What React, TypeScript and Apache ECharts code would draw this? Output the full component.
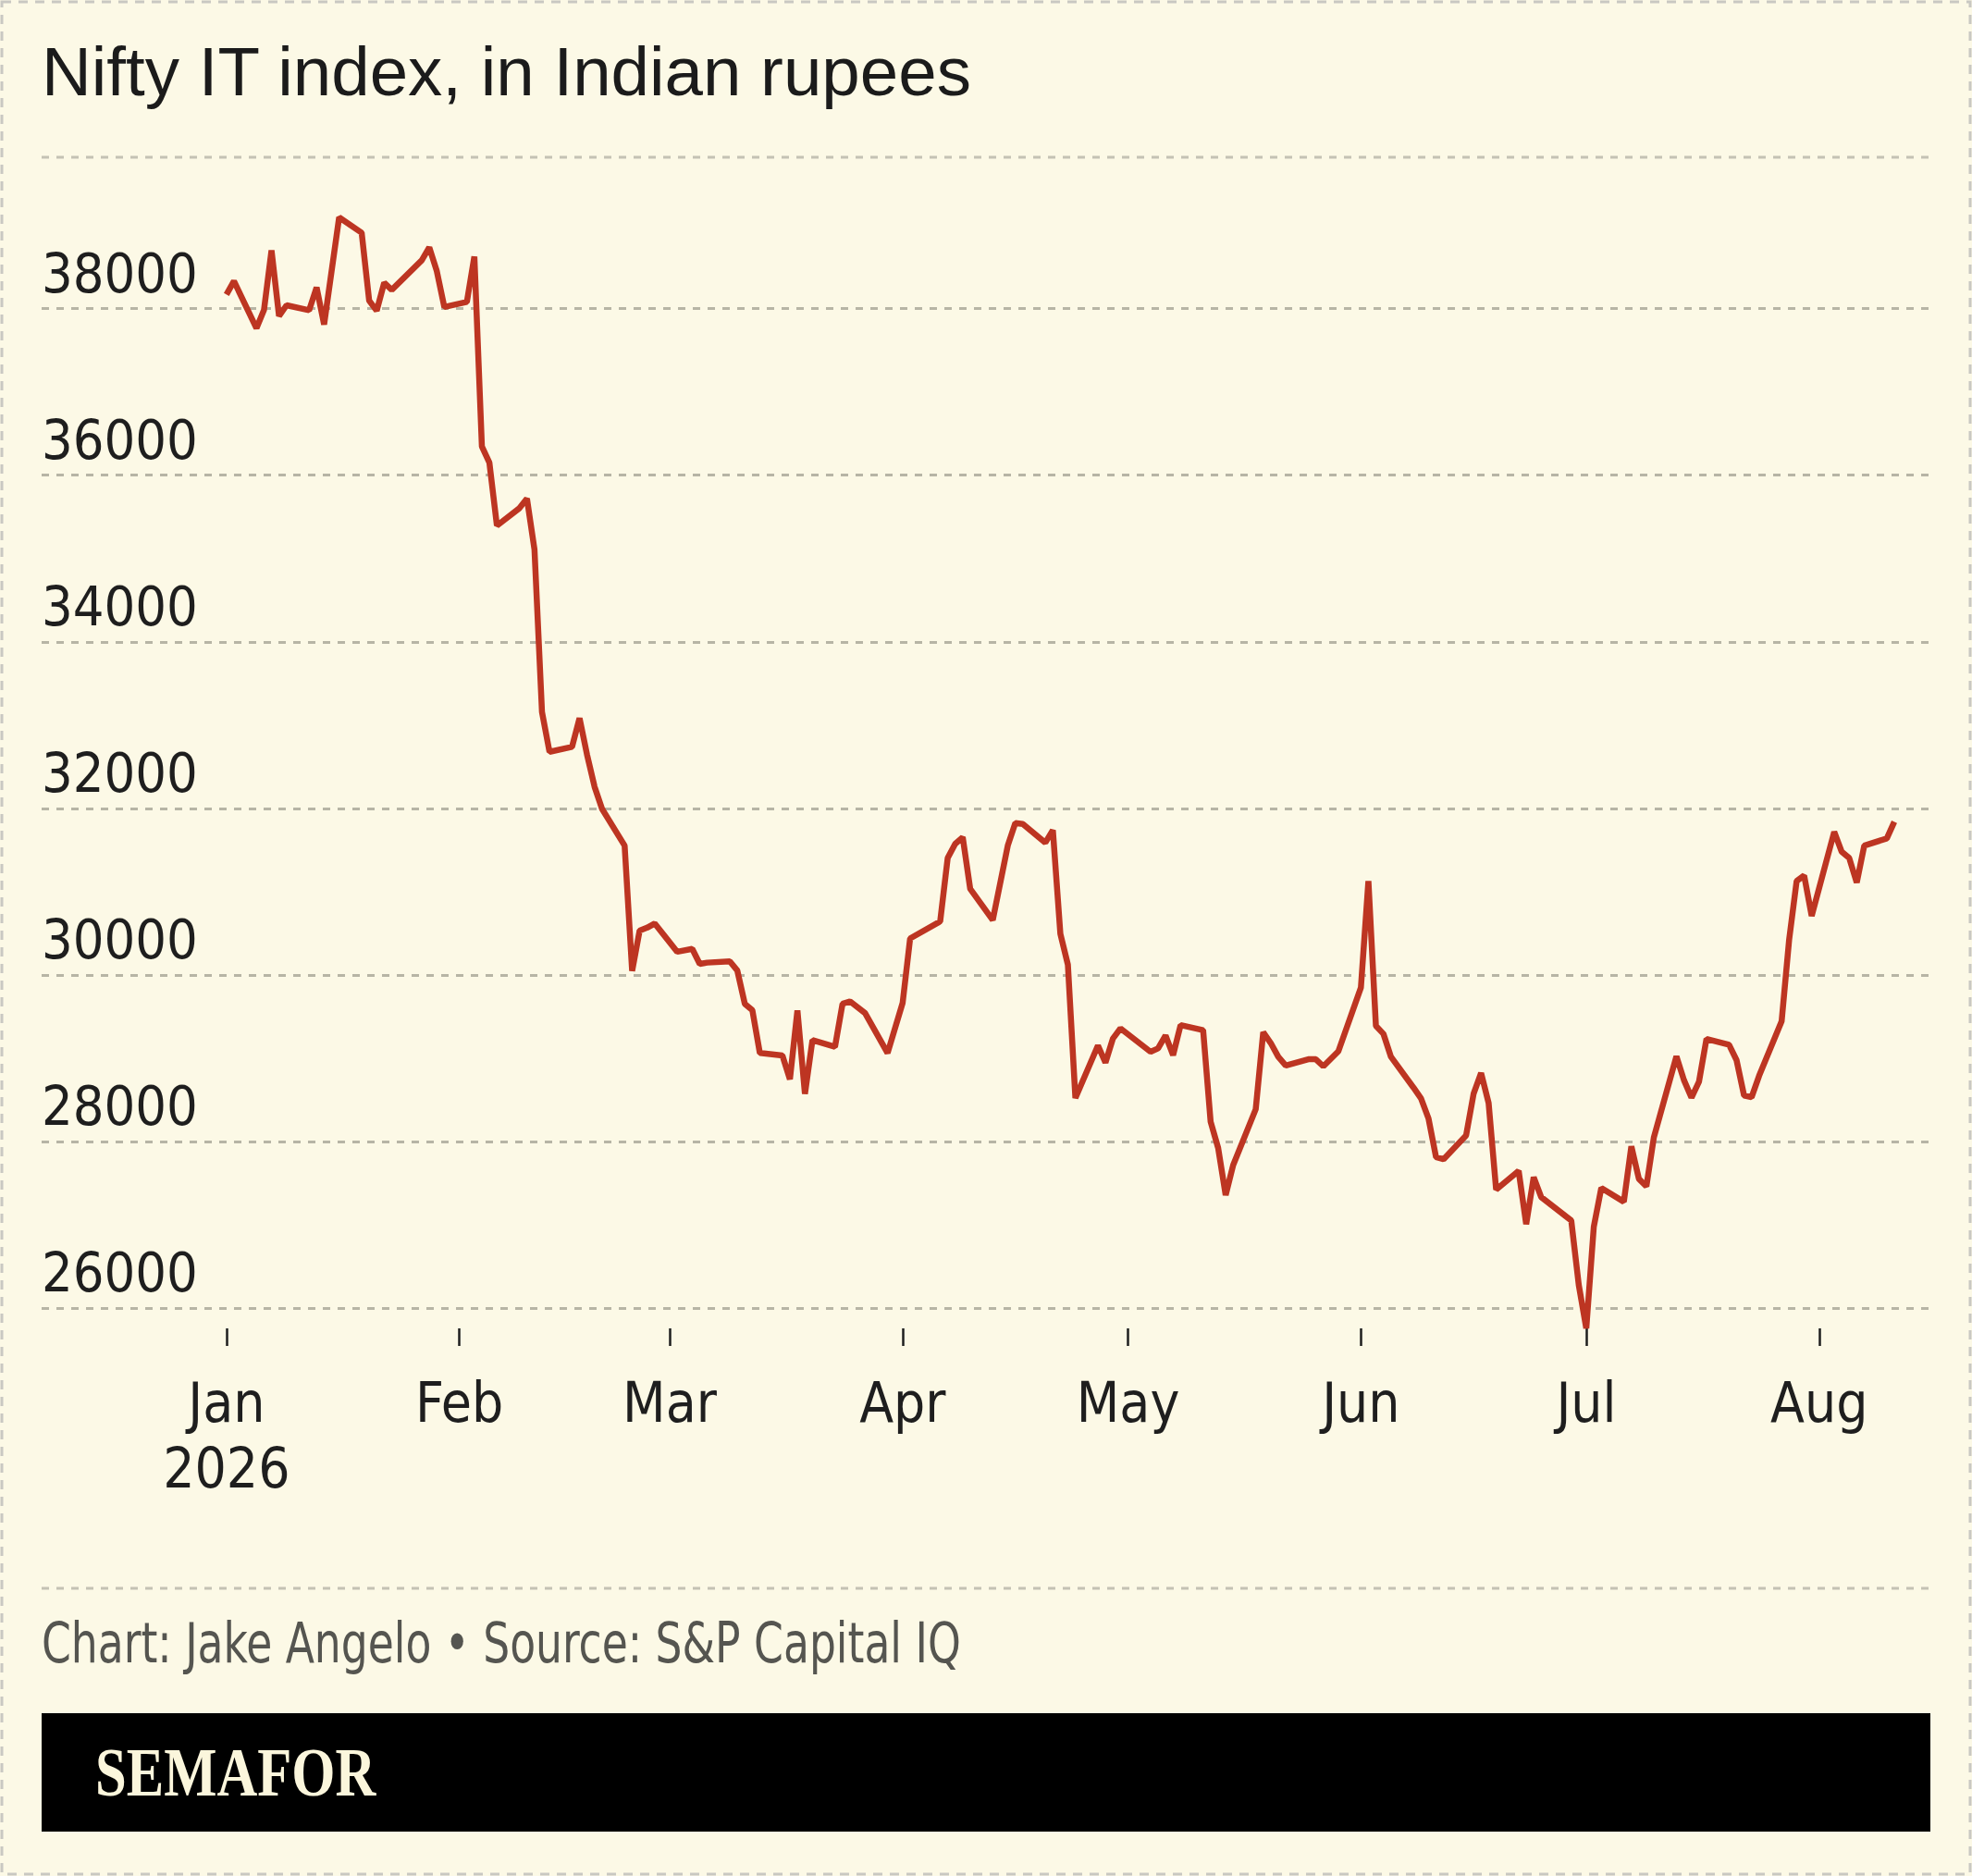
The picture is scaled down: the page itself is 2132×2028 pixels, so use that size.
import React, { useEffect, useRef } from 'react';
import * as echarts from 'echarts';

const titleText = 'Nifty IT index, in Indian rupees';
const sourceText = 'Chart: Jake Angelo • Source: S&P Capital IQ';
const brandText = 'SEMAFOR';

const monthTicks = ['2026-01-01', '2026-02-01', '2026-03-01', '2026-04-01', '2026-05-01', '2026-06-01', '2026-07-01', '2026-08-01'];
const monthLabels = ['Jan', 'Feb', 'Mar', 'Apr', 'May', 'Jun', 'Jul', 'Aug'];
const yearLabel = '2026';

const dates = [
  '2026-01-01', '2026-01-02', '2026-01-05', '2026-01-06', '2026-01-07', '2026-01-08', '2026-01-09',
  '2026-01-12', '2026-01-13', '2026-01-14', '2026-01-16', '2026-01-19', '2026-01-20', '2026-01-21',
  '2026-01-22', '2026-01-23', '2026-01-27', '2026-01-28', '2026-01-29', '2026-01-30',
  '2026-02-02', '2026-02-03', '2026-02-04', '2026-02-05', '2026-02-06', '2026-02-09', '2026-02-10',
  '2026-02-11', '2026-02-12', '2026-02-13', '2026-02-16', '2026-02-17', '2026-02-18', '2026-02-19',
  '2026-02-20', '2026-02-23', '2026-02-24', '2026-02-25', '2026-02-26', '2026-02-27',
  '2026-03-02', '2026-03-04', '2026-03-05', '2026-03-06', '2026-03-09', '2026-03-10', '2026-03-11',
  '2026-03-12', '2026-03-13', '2026-03-16', '2026-03-17', '2026-03-18', '2026-03-19', '2026-03-20',
  '2026-03-23', '2026-03-24', '2026-03-25', '2026-03-27', '2026-03-30',
  '2026-04-01', '2026-04-02', '2026-04-06', '2026-04-07', '2026-04-08', '2026-04-09', '2026-04-10',
  '2026-04-13', '2026-04-15', '2026-04-16', '2026-04-17', '2026-04-20', '2026-04-21', '2026-04-22',
  '2026-04-23', '2026-04-24', '2026-04-27', '2026-04-28', '2026-04-29', '2026-04-30',
  '2026-05-04', '2026-05-05', '2026-05-06', '2026-05-07', '2026-05-08', '2026-05-11', '2026-05-12',
  '2026-05-13', '2026-05-14', '2026-05-15', '2026-05-18', '2026-05-19', '2026-05-20', '2026-05-21',
  '2026-05-22', '2026-05-25', '2026-05-26', '2026-05-27', '2026-05-29',
  '2026-06-01', '2026-06-02', '2026-06-03', '2026-06-04', '2026-06-05', '2026-06-08', '2026-06-09',
  '2026-06-10', '2026-06-11', '2026-06-12', '2026-06-15', '2026-06-16', '2026-06-17', '2026-06-18',
  '2026-06-19', '2026-06-22', '2026-06-23', '2026-06-24', '2026-06-25', '2026-06-29', '2026-06-30',
  '2026-07-01', '2026-07-02', '2026-07-03', '2026-07-06', '2026-07-07', '2026-07-08', '2026-07-09',
  '2026-07-10', '2026-07-13', '2026-07-14', '2026-07-15', '2026-07-16', '2026-07-17', '2026-07-20',
  '2026-07-21', '2026-07-22', '2026-07-23', '2026-07-24', '2026-07-27', '2026-07-28', '2026-07-29',
  '2026-07-30', '2026-07-31',
  '2026-08-03', '2026-08-04', '2026-08-05', '2026-08-06', '2026-08-07', '2026-08-10', '2026-08-11',
];

const values = [
  38170, 38330, 37765, 37985, 38700, 37910, 38040,
  37980, 38255, 37810, 39095, 38910, 38095, 37975,
  38310, 38225, 38580, 38735, 38450, 38020,
  38080, 38625, 36345, 36150, 35395, 35605, 35720,
  35110, 33160, 32680, 32740, 33085, 32645, 32260,
  31995, 31555, 30050, 30535, 30570, 30620,
  30280, 30315, 30135, 30150, 30165, 30055, 29655,
  29580, 29065, 29035, 28750, 29575, 28575, 29220,
  29140, 29655, 29685, 29545, 29065,
  29665, 30440, 30645, 31405, 31575, 31655, 31035,
  30660, 31555, 31825, 31815, 31590, 31740, 30495,
  30125, 28525, 29155, 28950, 29240, 29360,
  29080, 29120, 29275, 29040, 29400, 29340, 28240,
  27925, 27360, 27720, 28390, 29315, 29185, 29020,
  28915, 28990, 28990, 28905, 29085,
  29850, 31130, 29390, 29295, 29020, 28650, 28520,
  28280, 27815, 27790, 28075, 28575, 28825, 28465,
  27425, 27650, 27010, 27575, 27335, 27055, 26280,
  25760, 26980, 27445, 27280, 27945, 27555, 27465,
  28055, 29025, 28740, 28530, 28720, 29235, 29165,
  28980, 28555, 28535, 28790, 29445, 30425, 31130,
  31195, 30710,
  31720, 31480, 31405, 31110, 31555, 31640, 31840,
];

const DAY = 86400000;
const ts = (s: string) => {
  const [y, m, d] = s.split('-').map(Number);
  return new Date(y, m - 1, d).getTime();
};

const W = 2132;
const H = 2028;
const BG = '#fcf9e6';
const LABEL_FONT = "'Liberation Sans Narrow', 'DejaVu Sans Condensed', 'Arial Narrow', sans-serif";

export default function App() {
  const ref = useRef<HTMLDivElement>(null);

  useEffect(() => {
    document.body.style.margin = '0';
    document.body.style.overflow = 'hidden';
    if (!ref.current) return;
    const chart = echarts.init(ref.current, null, { renderer: 'svg', width: W, height: H });

    const yMin = Math.min(...values);
    const yMax = Math.max(...values);
    const start = ts(monthTicks[0]);
    const xMin = start - 24.6 * DAY;
    const xMax = start + 226.8 * DAY;
    const tickTs = monthTicks.map(ts);

    const option: any = {
      animation: false,
      backgroundColor: BG,
      grid: {
        left: 45,
        right: 45,
        top: 235,
        bottom: H - 1436,
        containLabel: false,
        outerBoundsMode: 'none',
      },
      xAxis: {
        type: 'value',
        min: xMin,
        max: xMax,
        axisLine: { show: false },
        splitLine: { show: false },
        axisTick: {
          show: true,
          customValues: tickTs,
          length: 19,
          lineStyle: { color: '#1e1e1e', width: 2.5 },
        },
        axisLabel: {
          customValues: tickTs,
          margin: 44,
          fontFamily: LABEL_FONT,
          fontSize: 60,
          lineHeight: 71,
          color: '#1e1e1e',
          formatter: (v: number) => {
            let idx = -1;
            for (let i = 0; i < tickTs.length; i++) {
              if (Math.abs(tickTs[i] - v) < DAY / 2) idx = i;
            }
            const name = idx >= 0 ? monthLabels[idx] : '';
            return idx === 0 ? name + '\n' + yearLabel : name;
          },
        },
      },
      yAxis: {
        type: 'value',
        min: yMin,
        max: yMax,
        splitNumber: 6,
        minInterval: 2000,
        maxInterval: 2000,
        axisLine: { show: false },
        axisTick: { show: false },
        axisLabel: {
          inside: true,
          margin: 0,
          showMinLabel: false,
          showMaxLabel: false,
          verticalAlign: 'bottom',
          padding: [0, 0, 9, 0],
          fontFamily: LABEL_FONT,
          fontSize: 59,
          lineHeight: 59,
          color: '#1e1e1e',
          formatter: (v: number) => String(Math.round(v)),
        },
        splitLine: {
          show: true,
          showMinLine: false,
          showMaxLine: false,
          lineStyle: { color: '#b7b5a5', width: 3, type: [8, 8] },
        },
      },
      series: [
        {
          type: 'line',
          name: 'Nifty IT',
          data: dates.map((d, i) => [ts(d), values[i]]),
          showSymbol: false,
          symbol: 'none',
          clip: false,
          lineStyle: { color: '#bd3522', width: 6.5 },
          z: 3,
        },
      ],
      graphic: [
        {
          type: 'rect',
          silent: true,
          shape: { x: 2, y: 2, width: W - 4, height: H - 4 },
          style: { fill: 'none', stroke: '#c9c8c2', lineWidth: 3, lineDash: [10, 8] },
        },
        {
          type: 'line',
          silent: true,
          shape: { x1: 45, y1: 170, x2: W - 45, y2: 170 },
          style: { stroke: '#c4c2b4', lineWidth: 3, lineDash: [8, 8] },
        },
        {
          type: 'line',
          silent: true,
          shape: { x1: 45, y1: 1717, x2: W - 45, y2: 1717 },
          style: { stroke: '#c4c2b4', lineWidth: 3, lineDash: [8, 8] },
        },
        {
          type: 'text',
          x: 45,
          y: 77,
          style: {
            text: titleText,
            fontFamily: "'Liberation Sans', Arial, sans-serif",
            fontSize: 74.5,
            fill: '#1b1b1b',
            verticalAlign: 'middle',
            align: 'left',
          },
        },
        {
          type: 'text',
          x: 45,
          y: 1776,
          scaleX: 0.845,
          style: {
            text: sourceText,
            fontFamily: LABEL_FONT,
            fontSize: 60,
            fill: '#555550',
            verticalAlign: 'middle',
            align: 'left',
          },
        },
        {
          type: 'rect',
          silent: true,
          shape: { x: 45, y: 1852, width: W - 90, height: 128 },
          style: { fill: '#000000' },
        },
        {
          type: 'text',
          x: 103,
          y: 1916,
          scaleX: 0.82,
          style: {
            text: brandText,
            fontFamily: "'Liberation Serif', 'DejaVu Serif', serif",
            fontWeight: 'bold',
            fontSize: 74,
            fill: '#fbf6dc',
            verticalAlign: 'middle',
            align: 'left',
          },
        },
      ],
    };

    chart.setOption(option);
    return () => chart.dispose();
  }, []);

  return <div ref={ref} style={{ width: W, height: H, background: BG }} />;
}
